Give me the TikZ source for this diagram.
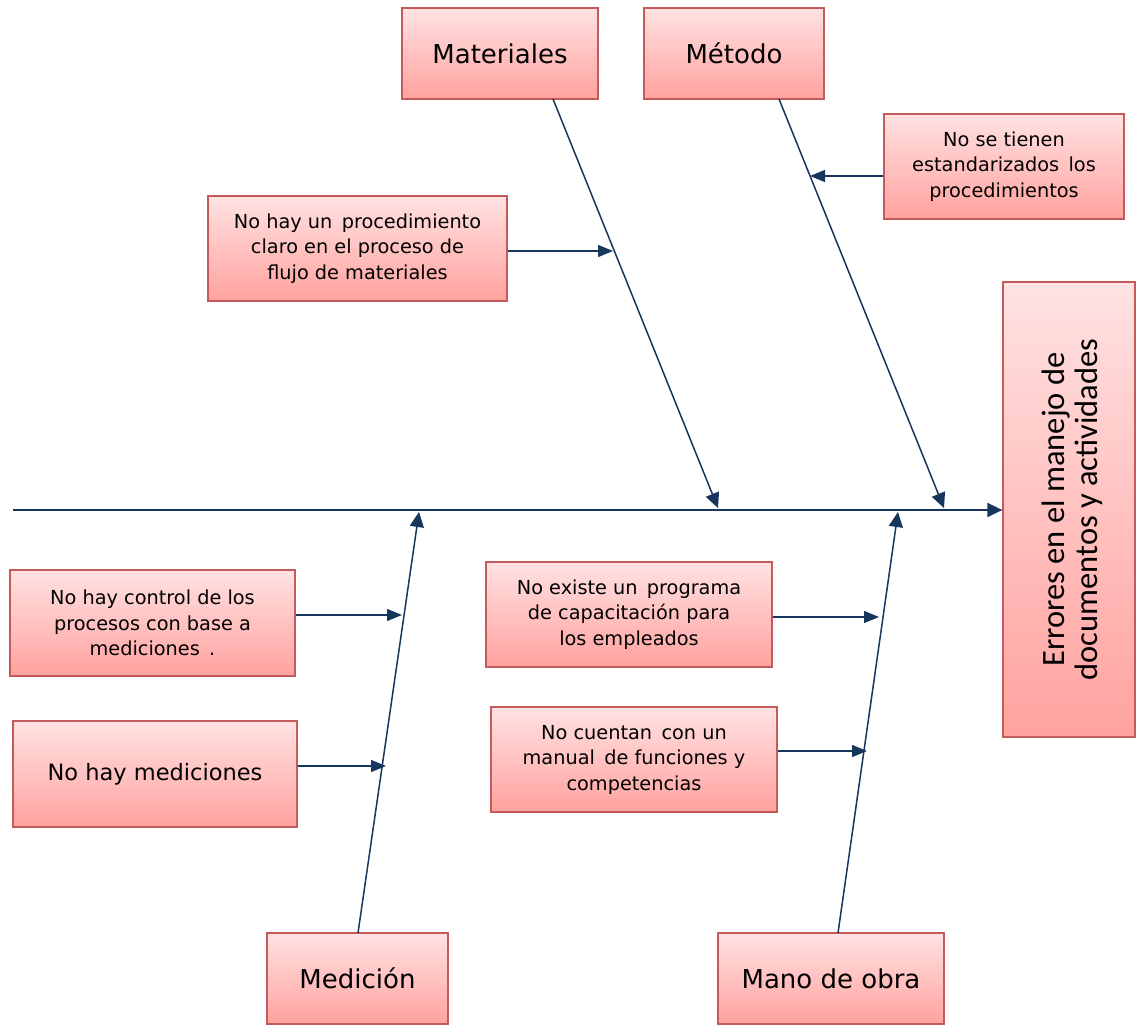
\documentclass[tikz,border=0pt]{standalone}
\usepackage{fontspec}
\setmainfont{DejaVu Sans}
\newfontfamily\headfont{Carlito}
\usetikzlibrary{arrows.meta}
\definecolor{bonecol}{HTML}{17365D}
\definecolor{edgecol}{HTML}{C55A5A}
\definecolor{filltop}{HTML}{FFE2E2}
\definecolor{fillbot}{HTML}{FFA29F}
\tikzset{
  cbox/.style={draw=edgecol, line width=1.3pt, top color=filltop, bottom color=fillbot,
    rectangle, inner sep=0pt, align=center, text=black},
  catbox/.style={cbox, font=\fontsize{26}{30}\selectfont},
  causebox/.style={cbox, font=\fontsize{19.3}{25.5}\selectfont},
  bone/.style={draw=bonecol, line width=1.5pt, -{Triangle[length=15pt,width=14pt]}},
  twig/.style={draw=bonecol, line width=1.3pt, -{Triangle[length=15pt,width=12pt]}},
}
\begin{document}
\begin{tikzpicture}[x=1pt,y=-1pt]
  \useasboundingbox (0,0) rectangle (1136,1025);

  % category boxes
  \node[catbox, minimum width=196pt, minimum height=91pt] (mat) at (500,53.5) {Materiales};
  \node[catbox, minimum width=180pt, minimum height=91pt] (met) at (734,53.5) {Método};
  \node[catbox, minimum width=181pt, minimum height=91pt] (med) at (357.5,978.5) {Medición};
  \node[catbox, minimum width=226pt, minimum height=91pt] (mano) at (831,978.5) {Mano de obra};

  % effect box
  \node[cbox, minimum width=132pt, minimum height=455pt] (err) at (1069,509.5) {};
  \node[rotate=90, align=center, font=\headfont\fontsize{32.5}{33}\selectfont] (errtxt)
    at ([xshift=3pt]err.center)
    {Errores en el manejo de\\documentos y actividades};

  % cause boxes
  \node[causebox, minimum width=240pt, minimum height=105pt] (nst) at (1004,166.5)
    {No se tienen\\estandarizados\, los\\procedimientos};
  \node[causebox, minimum width=299pt, minimum height=105pt] (proc) at (357.5,248.5)
    {No hay un\, procedimiento\\claro en el proceso de\\flujo de materiales};
  \node[causebox, minimum width=285pt, minimum height=106pt] (ctrl) at (152.5,623)
    {No hay control de los\\procesos con base a\\mediciones\, .};
  \node[cbox, font=\fontsize{22.5}{28}\selectfont, minimum width=284pt, minimum height=106pt] (nhm) at (155,774)
    {No hay mediciones};
  \node[causebox, minimum width=286pt, minimum height=105pt] (prog) at (629,614.5)
    {No existe un\, programa\\de capacitación para\\los empleados};
  \node[causebox, minimum width=286pt, minimum height=105pt] (man) at (634,759.5)
    {No cuentan\, con un\\manual\, de funciones y\\competencias};

  % spine
  \coordinate (tail) at (13,510);
  \draw[bone] (tail) -- (err.west |- tail);

  % main bones
  \coordinate (matB) at (553,99);   \coordinate (matT) at (718,508);
  \coordinate (metB) at (779,99);   \coordinate (metT) at (944,508);
  \coordinate (medB) at (358,933);  \coordinate (medT) at (419,512);
  \coordinate (manoB) at (838,933); \coordinate (manoT) at (898,512);
  \draw[bone] (matB) -- (matT);
  \draw[bone] (metB) -- (metT);
  \draw[bone] (medB) -- (medT);
  \draw[bone] (manoB) -- (manoT);

  % cause arrows onto the bones
  \coordinate (tNst) at (810,176);
  \coordinate (tProc) at (613,251);
  \coordinate (tCtrl) at (402,615);
  \coordinate (tNhm) at (386,766);
  \coordinate (tProg) at (879,617);
  \coordinate (tMan) at (867,751);
  \draw[twig] (nst.west |- tNst) -- (tNst);
  \draw[twig] (proc.east |- tProc) -- (tProc);
  \draw[twig] (ctrl.east |- tCtrl) -- (tCtrl);
  \draw[twig] (nhm.east |- tNhm) -- (tNhm);
  \draw[twig] (prog.east |- tProg) -- (tProg);
  \draw[twig] (man.east |- tMan) -- (tMan);
\end{tikzpicture}
\end{document}
